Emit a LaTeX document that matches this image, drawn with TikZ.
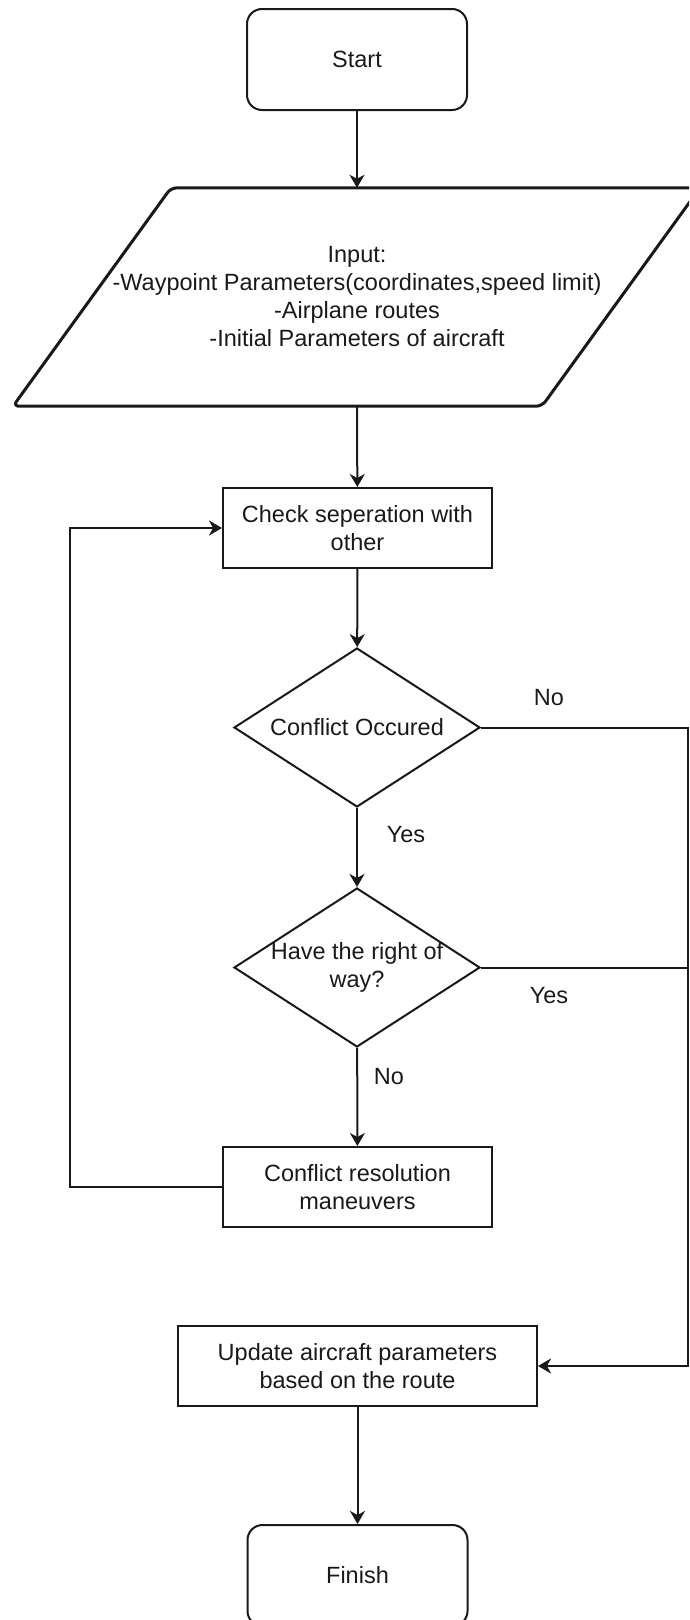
\documentclass[tikz,border=0pt]{standalone}
\usepackage{fontspec}
\setmainfont{Liberation Sans}
\usetikzlibrary{shapes.geometric,arrows.meta,calc}

\begin{document}
\begin{tikzpicture}[x=1pt,y=-1pt,
  every node/.style={font=\fontsize{23.5}{28}\selectfont, align=center, text=black!90},
  line/.style={draw=black!90, line width=2pt},
  flow/.style={line, -{Stealth[length=13pt,width=15pt,inset=4pt]}},
  terminal/.style={draw=black!90, line width=2pt, rounded corners=15pt,
                   minimum width=220pt, minimum height=101pt, inner sep=0pt},
  process/.style={draw=black!90, line width=2pt,
                  minimum width=269pt, minimum height=80pt, inner sep=0pt},
  decision/.style={draw=black!90, line width=2pt, diamond, inner sep=0pt,
                   minimum width=246pt, minimum height=159pt},
  iobox/.style={draw=black!90, line width=3pt, rounded corners=6pt, line join=round},
  tag/.style={inner sep=0pt}
]
\useasboundingbox (0,0) rectangle (689,1620);
\clip (0,0) rectangle (689,1620);

% steps of the flow chart
\node[terminal] (start) at (357,59.5) {Start};
\node[inner sep=0pt, minimum width=10pt, minimum height=218pt] (input) at (357,297)
  {Input:\\-Waypoint Parameters(coordinates,speed limit)\\-Airplane routes\\-Initial Parameters of aircraft};
\node[process] (check) at (357.5,528) {Check seperation with\\other};
\node[decision, label={[tag]center:Conflict Occured}] (conf) at (357,727.5) {};
\node[decision, label={[tag, align=center]center:Have the right of\\way?}] (right) at (357,967.5) {};
\node[process] (resolve) at (357.5,1187) {Conflict resolution\\maneuvers};
\node[process, minimum width=359pt] (update) at (357.5,1366) {Update aircraft parameters\\based on the route};
\node[terminal] (finish) at (357.5,1575.5) {Finish};

% input parallelogram around the input text
\draw[iobox] (input.north) -- ($(input.north)+(343,0)$) -- ($(input.south)+(185,0)$)
  -- ($(input.south)+(-344,0)$) -- ($(input.north)+(-186,0)$) -- cycle;

% routing points of the side loops
\coordinate (loopL) at (70,0);
\coordinate (busR) at (688,0);

% connectors
\draw[flow] (start) -- (input.north);
\draw[flow] (input.south) -- (check);
\draw[flow] (check) -- (conf);
\draw[flow] (conf) -- (right);
\draw[flow] (right) -- (resolve);
\draw[flow] (resolve.west) -- (resolve.west -| loopL) -- (check.west -| loopL) -- (check.west);
\draw[flow] (conf.east) -- (conf.east -| busR) -- (update.east -| busR) -- (update.east);
\draw[line] (right.east) -- (right.east -| busR);
\draw[flow] (update) -- (finish);

% branch labels
\node[tag] (noA) at (549,698) {No};
\node[tag] (yesA) at (406,835) {Yes};
\node[tag] (yesB) at (549,996) {Yes};
\node[tag] (noB) at (389,1077) {No};
\end{tikzpicture}
\end{document}
